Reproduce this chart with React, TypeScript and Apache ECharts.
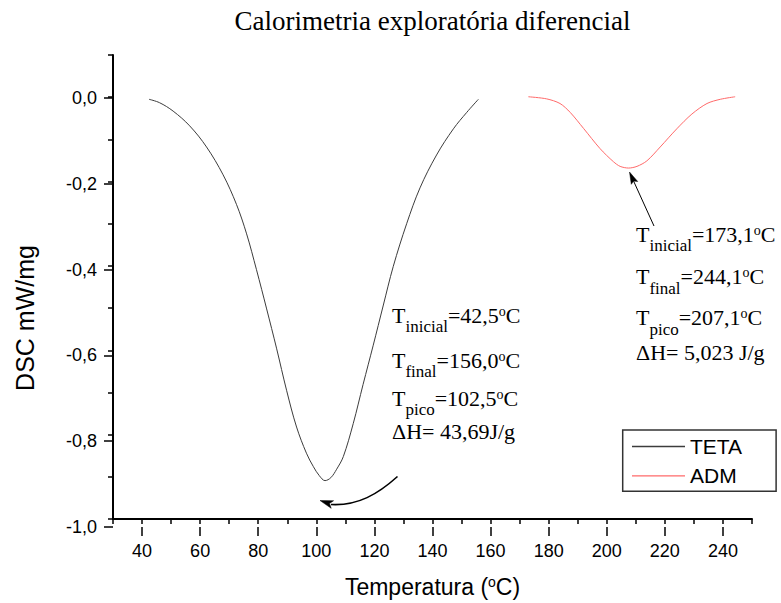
import React, { useEffect, useRef } from 'react';
import * as echarts from 'echarts';

// ---- data ----
const seriesNames = ['TETA', 'ADM'];
const tetaX = [42.4, 46.0, 50.7, 56.4, 62.2, 67.9, 72.5, 76.0, 79.4, 82.9, 86.3, 89.8, 93.2, 96.6, 99.0, 101.0, 103.0, 105.0, 107.0, 109.3, 112.7, 116.1, 119.6, 123.0, 126.5, 131.1, 135.7, 141.4, 147.2, 151.8, 155.8];
const tetaY = [-0.005, -0.013, -0.033, -0.068, -0.118, -0.184, -0.254, -0.324, -0.409, -0.502, -0.595, -0.696, -0.782, -0.844, -0.876, -0.897, -0.909, -0.902, -0.882, -0.852, -0.774, -0.681, -0.588, -0.495, -0.401, -0.300, -0.215, -0.137, -0.075, -0.036, -0.005];
const admX = [173.0, 179.3, 183.9, 187.4, 192.0, 197.7, 202.3, 204.6, 207.5, 210.4, 213.8, 218.4, 224.1, 229.3, 234.5, 239.1, 244.2];
const admY = [0.001, -0.004, -0.015, -0.036, -0.074, -0.122, -0.153, -0.164, -0.168, -0.164, -0.151, -0.118, -0.075, -0.040, -0.015, -0.005, 0.001];

const titleText = 'Calorimetria exploratória diferencial';
const yName = 'DSC mW/mg';
const xNameMain = 'Temperatura (';
const xNameEnd = 'C)';
const tetaNotes = [
  ['inicial', '=42,5'],
  ['final', '=156,0'],
  ['pico', '=102,5'],
];
const tetaDH = 'ΔH= 43,69J/g';
const admNotes = [
  ['inicial', '=173,1'],
  ['final', '=244,1'],
  ['pico', '=207,1'],
];
const admDH = 'ΔH= 5,023 J/g';

// ---- layout ----
const W = 781;
const H = 603;
const SANS = '"Liberation Sans", Arial, sans-serif';
const SERIF = '"Liberation Serif", "Times New Roman", serif';
const PX_L = 113;
const PX_R = 752;
const PX_T = 55;
const PX_B = 527;
const X_MIN = 30, X_MAX = 250, Y_MIN = -1, Y_MAX = 0.1;
const g1Left = PX_L + ((40 - X_MIN) / (X_MAX - X_MIN)) * (PX_R - PX_L);
const g1RightPx = PX_L + ((240 - X_MIN) / (X_MAX - X_MIN)) * (PX_R - PX_L);
const g1Top = PX_T + ((Y_MAX - 0) / (Y_MAX - Y_MIN)) * (PX_B - PX_T);

const tickStyle = { color: '#000', width: 1.5 };
const annRich = {
  m: { fontFamily: SERIF, fontSize: 22, color: '#000', verticalAlign: 'top' },
  s: { fontFamily: SERIF, fontSize: 17, color: '#000', verticalAlign: 'top', padding: [14, 0, 0, 0] },
  p: { fontFamily: SERIF, fontSize: 14, color: '#000', verticalAlign: 'top' },
};

function noteLine(sub: string, val: string) {
  return `{m|T}{s|${sub}}{m|${val}}{p|o}{m|C}`;
}

function annotationBlock(x: number, tops: number[], notes: string[][], dh: string) {
  const els: any[] = notes.map((n, i) => ({
    type: 'text',
    x,
    y: tops[i],
    z: 100,
    style: { text: noteLine(n[0], n[1]), rich: annRich, align: 'left', verticalAlign: 'top', textAlign: 'left', textVerticalAlign: 'top' },
  }));
  els.push({
    type: 'text',
    x,
    y: tops[3],
    z: 100,
    style: { text: `{m|${dh}}`, rich: annRich, align: 'left', verticalAlign: 'top', textAlign: 'left', textVerticalAlign: 'top' },
  });
  return els;
}

export default function App() {
  const ref = useRef<HTMLDivElement>(null);
  useEffect(() => {
    const chart = echarts.init(ref.current!, null, { renderer: 'svg' });
    const option: any = {
      animation: false,
      backgroundColor: '#fff',
      grid: [
        { left: PX_L, right: W - PX_R, top: PX_T, bottom: H - PX_B },
        { left: g1Left, right: W - g1RightPx, top: g1Top, bottom: H - PX_B },
      ],
      xAxis: [
        {
          gridIndex: 0, type: 'value', min: X_MIN, max: X_MAX, interval: 10,
          axisLine: { show: true, onZero: false, lineStyle: { color: '#000', width: 2 } },
          axisTick: { show: true, length: 5, lineStyle: tickStyle },
          axisLabel: { show: false },
          splitLine: { show: false },
          name: `{m|${xNameMain}}{p|o}{m|${xNameEnd}}`,
          nameLocation: 'middle',
          nameGap: 56,
          nameTextStyle: {
            rich: {
              m: { fontFamily: SANS, fontSize: 23, color: '#000', verticalAlign: 'top' },
              p: { fontFamily: SANS, fontSize: 14, color: '#000', verticalAlign: 'top' },
            },
          },
        },
        {
          gridIndex: 1, type: 'value', min: 40, max: 240, interval: 20,
          axisLine: { show: false, onZero: false },
          axisTick: { show: true, length: 9, lineStyle: tickStyle },
          axisLabel: { show: true, margin: 15, fontSize: 18, color: '#000', fontFamily: SANS },
          splitLine: { show: false },
        },
      ],
      yAxis: [
        {
          gridIndex: 0, type: 'value', min: Y_MIN, max: Y_MAX, interval: 0.1,
          axisLine: { show: true, onZero: false, lineStyle: { color: '#000', width: 2 } },
          axisTick: { show: true, length: 5, lineStyle: tickStyle },
          axisLabel: { show: false },
          splitLine: { show: false },
        },
        {
          gridIndex: 1, type: 'value', min: -1, max: 0, interval: 0.2,
          offset: g1Left - PX_L,
          axisLine: { show: false, onZero: false },
          axisTick: { show: true, length: 9, lineStyle: tickStyle },
          axisLabel: {
            show: true, margin: 16, fontSize: 18, color: '#000', fontFamily: SANS,
            formatter: (v: number) => (Math.abs(v) < 1e-9 ? '0,0' : v.toFixed(1).replace('.', ',')),
          },
          splitLine: { show: false },
        },
      ],
      legend: {
        show: true,
        orient: 'vertical',
        left: 622.7,
        top: 430,
        data: seriesNames,
        icon: 'rect',
        itemWidth: 53,
        itemHeight: 1.3,
        itemGap: 8.3,
        padding: [6, 34, 5, 9.3],
        borderColor: '#333',
        borderWidth: 1.5,
        backgroundColor: '#fff',
        selectedMode: false,
        textStyle: { fontSize: 21, color: '#000', fontFamily: SANS, lineHeight: 21 },
      },
      series: [
        {
          type: 'line', name: seriesNames[0], xAxisIndex: 0, yAxisIndex: 0,
          data: tetaX.map((x, i) => [x, tetaY[i]]),
          showSymbol: false, symbol: 'none', smooth: 0.35,
          lineStyle: { color: '#3c3c3c', width: 1 }, itemStyle: { color: '#3c3c3c' },
        },
        {
          type: 'line', name: seriesNames[1], xAxisIndex: 0, yAxisIndex: 0,
          data: admX.map((x, i) => [x, admY[i]]),
          showSymbol: false, symbol: 'none', smooth: 0.3,
          lineStyle: { color: '#ff6a6a', width: 1 }, itemStyle: { color: '#ff6a6a' },
        },
      ],
      graphic: [
        {
          type: 'text', x: 432.5, y: 7, z: 100,
          style: { text: titleText, fontSize: 27, fontFamily: SERIF, fill: '#000', align: 'center', verticalAlign: 'top', textAlign: 'center', textVerticalAlign: 'top' },
        },
        {
          type: 'text', x: 25, y: 318, rotation: Math.PI / 2, z: 100,
          style: { text: yName, fontSize: 25, fontFamily: SANS, fill: '#000', align: 'center', verticalAlign: 'middle', textAlign: 'center', textVerticalAlign: 'middle' },
        },
        ...annotationBlock(392, [304, 349, 387.3, 420], tetaNotes, tetaDH),
        ...annotationBlock(636, [223.3, 265.6, 306.6, 341.6], admNotes, admDH),
        {
          type: 'bezierCurve', z: 100,
          shape: { x1: 397.5, y1: 476.5, cpx1: 378, cpy1: 494, cpx2: 358, cpy2: 506, x2: 331, y2: 504.5 },
          style: { stroke: '#000', lineWidth: 1.6, fill: null },
        },
        {
          type: 'polygon', z: 100,
          shape: { points: [[320, 500.5], [333.6, 500.7], [329.5, 503.5], [331.2, 508.3]] },
          style: { fill: '#000', stroke: '#000', lineWidth: 0.5 },
        },
        {
          type: 'line', z: 100,
          shape: { x1: 654, y1: 226, x2: 633.6, y2: 181.1 },
          style: { stroke: '#000', lineWidth: 1 },
        },
        {
          type: 'polygon', z: 100,
          shape: { points: [[629.5, 172], [637.7, 181.5], [633.6, 181.1], [631.3, 184.3]] },
          style: { fill: '#000', stroke: '#000', lineWidth: 0.5 },
        },
      ],
    };
    chart.setOption(option);
    return () => chart.dispose();
  }, []);
  return <div ref={ref} style={{ position: 'fixed', left: 0, top: 0, width: W, height: H }} />;
}
